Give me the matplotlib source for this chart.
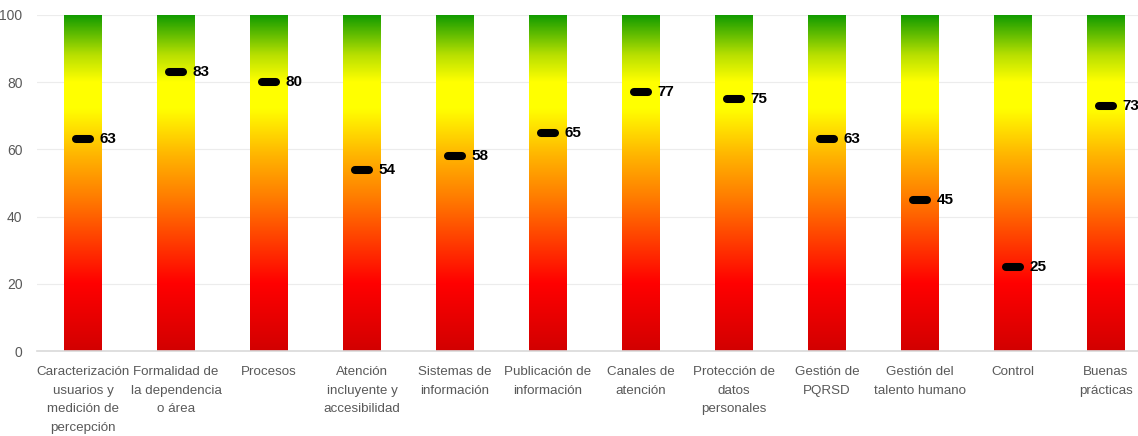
import matplotlib
matplotlib.use("Agg")
import matplotlib.pyplot as plt
import numpy as np
from matplotlib.colors import LinearSegmentedColormap
from matplotlib import font_manager

categories = ["Caracterización\nusuarios y\nmedición de\npercepción",
              "Formalidad de\nla dependencia\no área",
              "Procesos",
              "Atención\nincluyente y\naccesibilidad",
              "Sistemas de\ninformación",
              "Publicación de\ninformación",
              "Canales de\natención",
              "Protección de\ndatos\npersonales",
              "Gestión de\nPQRSD",
              "Gestión del\ntalento humano",
              "Control",
              "Buenas\nprácticas"]
values = [63, 83, 80, 54, 58, 65, 77, 75, 63, 45, 25, 73]
yticks = [0, 20, 40, 60, 80, 100]

names = {f.name for f in font_manager.fontManager.ttflist}
fam = "Liberation Sans Narrow" if "Liberation Sans Narrow" in names else "Liberation Sans"

cmap = LinearSegmentedColormap.from_list("grad", [
    (0.0, "#d20000"), (0.2, "#ff0000"), (0.45, "#ff7a00"), (0.58, "#ffb400"),
    (0.72, "#ffff00"), (0.8, "#ffff00"), (0.88, "#b8e000"), (1.0, "#0f9a00")])

fig = plt.figure(figsize=(11.38, 4.36), dpi=100)
ax = fig.add_axes([36.5/1138, 85/436, (1138-36.5)/1138, (351-15)/436])

x = np.arange(len(categories))
bw = 0.4
grad = np.linspace(0, 1, 256).reshape(-1, 1)
for i, v in zip(x, values):
    ax.imshow(grad, cmap=cmap, origin="lower", aspect="auto",
              extent=[i - bw/2, i + bw/2, 0, 100], zorder=2)
    ax.hlines(v, i - 0.075, i + 0.075, color="black", lw=5.8,
              capstyle="round", zorder=3)
    ax.text(i + bw/2 - 0.025, v, f"{v}", ha="left", va="center",
            fontsize=11, fontweight="bold", family=fam, color="black", zorder=4)

ax.set_xlim(-0.5, (1138-83)/93)
ax.set_ylim(0, 100)
ax.set_yticks(yticks)
ax.set_xticks(x)
ax.set_xticklabels(categories, family=fam, fontsize=9.6, color="#595959")
for lab in ax.get_xticklabels():
    lab.set_linespacing(1.72)
for lab in ax.get_yticklabels():
    lab.set_family(fam)
    lab.set_fontsize(10)
    lab.set_color("#595959")
ax.tick_params(axis="both", length=0)
ax.tick_params(axis="y", pad=10)
ax.tick_params(axis="x", pad=11)
for s in ["top", "right", "left"]:
    ax.spines[s].set_visible(False)
ax.spines["bottom"].set_color("#d9d9d9")
ax.spines["bottom"].set_linewidth(1.2)
ax.grid(axis="y", color="#ececec", lw=0.8, zorder=0)
ax.set_axisbelow(True)

fig.savefig("out.png", dpi=100)
